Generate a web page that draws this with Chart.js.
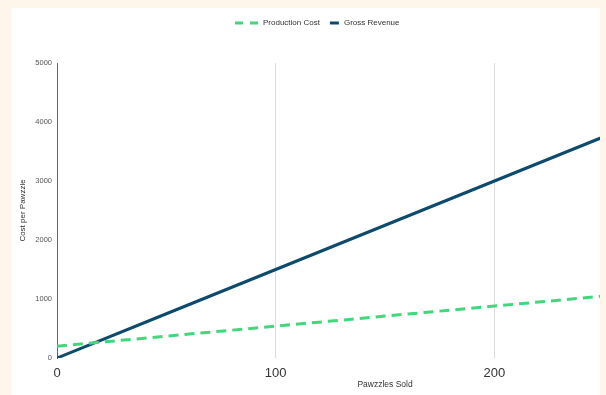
<!DOCTYPE html>
<html>
<head>
<meta charset="utf-8">
<script src="https://cdn.jsdelivr.net/npm/chart.js@4.4.1/dist/chart.umd.min.js"></script>
<style>
  html, body { margin: 0; padding: 0; background: #fef6ea; width: 606px; height: 395px; overflow: hidden; }
  #panel { position: absolute; left: 12px; top: 8px; width: 588px; height: 387px; background: #fff; overflow: hidden; }
  #chart { position: absolute; left: -12px; top: -8px; }
</style>
</head>
<body>
<div id="panel"><canvas id="chart" width="732" height="395"></canvas></div>
<script>
// Data
const unitsSold = [0, 50, 100, 150, 200, 250, 300];
const productionCost = [200, 370, 540, 710, 880, 1050, 1220];
const grossRevenue = [0, 750, 1500, 2250, 3000, 3750, 4500];
const xTicks = [0, 100, 200, 300];
const yTicks = [0, 1000, 2000, 3000, 4000, 5000];

const FONT = "'Liberation Sans', Arial, sans-serif";

// Legend drawn by hand: dashed sample for cost, short solid one for revenue
const legendPlugin = {
  id: 'sketchLegend',
  afterDraw(chart) {
    const ctx = chart.ctx;
    const y = 23;
    let x = 235;
    ctx.save();
    ctx.font = '8px ' + FONT;
    ctx.textBaseline = 'middle';
    chart.data.datasets.forEach(function (ds, i) {
      const w = i === 0 ? 23 : 9;
      ctx.beginPath();
      ctx.lineWidth = 3;
      ctx.strokeStyle = ds.borderColor;
      ctx.setLineDash(i === 0 ? [8, 7] : []);
      ctx.moveTo(x, y);
      ctx.lineTo(x + w, y);
      ctx.stroke();
      ctx.setLineDash([]);
      x += w + 5;
      ctx.fillStyle = '#333';
      ctx.fillText(ds.label, x, y);
      x += ctx.measureText(ds.label).width + 10;
    });
    ctx.restore();
  }
};

new Chart(document.getElementById('chart'), {
  type: 'line',
  data: {
    datasets: [{
      label: 'Production Cost',
      data: unitsSold.map((u, i) => ({ x: u, y: productionCost[i] })),
      borderColor: '#43d67c',
      borderWidth: 3,
      borderDash: [10, 6],
      pointRadius: 0,
      fill: false
    }, {
      label: 'Gross Revenue',
      data: unitsSold.map((u, i) => ({ x: u, y: grossRevenue[i] })),
      borderColor: '#0e4a6c',
      borderWidth: 3,
      pointRadius: 0,
      fill: false
    }]
  },
  options: {
    responsive: false,
    animation: false,
    layout: { padding: { left: 12, top: 63, right: 0, bottom: 0 } },
    plugins: { legend: { display: false }, tooltip: { enabled: false } },
    scales: {
      x: {
        type: 'linear',
        min: 0,
        max: 300,
        afterBuildTicks: s => { s.ticks = xTicks.map(v => ({ value: v })); },
        afterFit: s => { s.height = 37; },
        grid: {
          drawTicks: false,
          color: c => (c.tick && c.tick.value === 0) ? 'rgba(0,0,0,0)' : '#dcdcdc'
        },
        border: { display: false },
        ticks: { padding: 8, color: '#333', font: { family: FONT, size: 13 } },
        title: { display: true, text: 'Pawzzles Sold', color: '#333', padding: { top: 0, bottom: 5 }, font: { family: FONT, size: 8.5 } }
      },
      y: {
        min: 0,
        max: 5000,
        afterBuildTicks: s => { s.ticks = yTicks.map(v => ({ value: v })); },
        afterFit: s => { s.width = 45; },
        grid: { display: false, drawTicks: false },
        border: { display: true, color: '#666', width: 1 },
        ticks: { padding: 5, color: '#555', font: { family: FONT, size: 7.5 }, callback: v => String(v) },
        title: { display: true, text: 'Cost per Pawzzle', color: '#333', padding: { top: 6, bottom: 0 }, font: { family: FONT, size: 8 } }
      }
    }
  },
  plugins: [legendPlugin]
});
</script>
</body>
</html>
